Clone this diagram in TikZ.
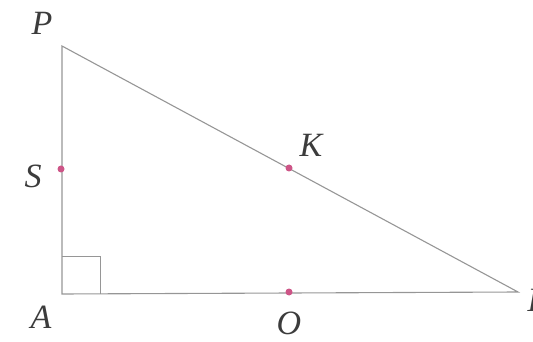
\documentclass[tikz,border=0pt]{standalone}
\usepackage{fontspec}
\setmainfont{Liberation Serif}
\definecolor{edge}{RGB}{150,150,150}
\definecolor{dotc}{RGB}{205,85,135}
\definecolor{lab}{RGB}{60,60,60}
\begin{document}
\begin{tikzpicture}[x=1pt,y=-1pt,
  side/.style={draw=edge,line width=1.1pt},
  dotmark/.style={circle,fill=dotc,inner sep=0pt,minimum size=7pt},
  lbl/.style={text=lab,font=\fontsize{34}{34}\selectfont\itshape,inner sep=0pt}]
\useasboundingbox (0,0) rectangle (533,342);
\coordinate (P) at (62,46);
\coordinate (A) at (62,294);
\coordinate (I) at (518,292);
\draw[side] (P) -- (A) -- (I) -- cycle;
\draw[side,line width=0.9pt] (62,256) -- (100,256) -- (100,294);
\node[dotmark] (S) at (61,169) {};
\node[dotmark] (K) at (289,168) {};
\node[dotmark] (O) at (289,292) {};
\node[lbl] (lP) at (42,23) {P};
\node[lbl] (lA) at (41,317) {A};
\node[lbl] (lI) at (533,300) {I};
\node[lbl] (lS) at (33,176) {S};
\node[lbl] (lK) at (311,145) {K};
\node[lbl] (lO) at (289,323) {O};
\end{tikzpicture}
\end{document}
